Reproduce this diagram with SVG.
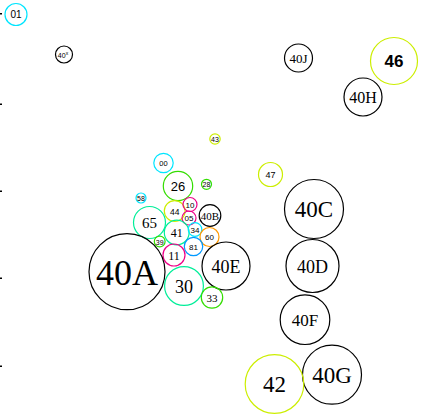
<svg xmlns="http://www.w3.org/2000/svg" width="422" height="416" viewBox="0 0 422 416">
<style>
circle{fill:none;stroke-width:1.2}
.k{stroke:#000}.c{stroke:#00e5ff}.t{stroke:#00ee99}.g{stroke:#33dd00}.y{stroke:#ccee00}.m{stroke:#ee0088}.o{stroke:#ff9900}.b{stroke:#0099ff}
text{text-anchor:middle;dominant-baseline:central;fill:#000}
.s{font-family:"Liberation Sans",Arial,sans-serif}
.r{font-family:"Liberation Serif","Times New Roman",serif}
</style>
<rect width="422" height="416" fill="#fff"/>
<g id="ticks" fill="#000">
<rect x="0" y="13" width="2" height="1.5"/>
<rect x="0" y="103.5" width="2" height="1.5"/>
<rect x="0" y="190.5" width="2" height="1.5"/>
<rect x="0" y="277.5" width="2" height="1.5"/>
<rect x="0" y="365.5" width="2" height="1.5"/>
</g>
<g id="connectors"></g>
<g id="n01"><circle class="c" cx="16" cy="14.5" r="11"/><text class="s" x="16" y="14.5" font-size="10">01</text></g>
<g id="n40x"><circle class="k" cx="64" cy="54.5" r="8.5"/><text class="s" x="63" y="55.5" font-size="7">40<tspan font-size="5" dy="-2.5">x</tspan></text></g>
<g id="n40J"><circle class="k" cx="298.5" cy="58" r="14"/><text class="r" x="298.5" y="58.5" font-size="13">40J</text></g>
<g id="n46"><circle class="y" cx="394" cy="61" r="23.5"/><text class="s" x="394" y="61.5" font-size="17" font-weight="bold">46</text></g>
<g id="n40H"><circle class="k" cx="363" cy="97" r="19"/><text class="r" x="363" y="97.5" font-size="16">40H</text></g>
<g id="n43"><circle class="y" cx="215" cy="139" r="5.2"/><text class="s" x="215" y="139.5" font-size="7">43</text></g>
<g id="n00"><circle class="c" cx="163.5" cy="163" r="9.7"/><text class="s" x="163.5" y="163.5" font-size="7.5">00</text></g>
<g id="n47"><circle class="y" cx="270.5" cy="174.5" r="12"/><text class="s" x="270.5" y="175" font-size="9">47</text></g>
<g id="n26"><circle class="g" cx="178" cy="186" r="14.7"/><text class="s" x="178" y="186.5" font-size="13">26</text></g>
<g id="n28"><circle class="g" cx="206.5" cy="184.3" r="5"/><text class="s" x="206.5" y="184.8" font-size="7">28</text></g>
<g id="n58"><circle class="c" cx="141" cy="198" r="5"/><text class="s" x="141" y="198.5" font-size="7">58</text></g>
<g id="n40C"><circle class="k" cx="314" cy="209" r="29.5"/><text class="r" x="314" y="209.5" font-size="23">40C</text></g>
<g id="n44"><circle class="y" cx="174.7" cy="211" r="10.4"/><text class="s" x="174.7" y="211.5" font-size="8.5">44</text></g>
<g id="n10"><circle class="m" cx="190" cy="204.5" r="7"/><text class="s" x="190" y="205" font-size="8">10</text></g>
<g id="n05"><circle class="m" cx="189" cy="218" r="7"/><text class="s" x="189" y="218.5" font-size="8">05</text></g>
<g id="n40B"><circle class="k" cx="210" cy="215.5" r="10.8"/><text class="r" x="210" y="216" font-size="11">40B</text></g>
<g id="n65"><circle class="t" cx="149.5" cy="222.5" r="16"/><text class="r" x="149.5" y="223" font-size="15">65</text></g>
<g id="n41"><circle class="t" cx="176.7" cy="232.5" r="12.4"/><text class="r" x="176.7" y="233" font-size="12">41</text></g>
<g id="n34"><circle class="c" cx="195" cy="229.5" r="6.8"/><text class="s" x="195" y="230" font-size="8">34</text></g>
<g id="n60"><circle class="o" cx="209.5" cy="237" r="9.5"/><text class="s" x="209.5" y="237.5" font-size="8">60</text></g>
<g id="n39"><circle class="g" cx="159.7" cy="241.5" r="5.4"/><text class="s" x="159.7" y="242" font-size="7">39</text></g>
<g id="n81"><circle class="b" cx="193.5" cy="246.5" r="9.2"/><text class="s" x="193.5" y="247" font-size="8">81</text></g>
<g id="n11"><circle class="m" cx="174" cy="255" r="11"/><text class="r" x="174" y="255.5" font-size="12">11</text></g>
<g id="n40D"><circle class="k" cx="312.5" cy="266" r="26.5"/><text class="r" x="312.5" y="266.5" font-size="18">40D</text></g>
<g id="n40E"><circle class="k" cx="226" cy="266" r="24"/><text class="r" x="226" y="266.5" font-size="18">40E</text></g>
<g id="n40A"><circle class="k" cx="127" cy="271.7" r="38"/><text class="r" x="127" y="272.5" font-size="36">40A</text></g>
<g id="n30"><circle class="t" cx="184" cy="286" r="19.4"/><text class="r" x="184" y="286.5" font-size="18">30</text></g>
<g id="n33"><circle class="g" cx="212" cy="297.5" r="10.7"/><text class="r" x="212" y="298" font-size="11">33</text></g>
<g id="n40F"><circle class="k" cx="305" cy="319.7" r="24.8"/><text class="r" x="305" y="320.2" font-size="17">40F</text></g>
<g id="n40G"><circle class="k" cx="332" cy="374.7" r="29.5"/><text class="r" x="332" y="375.2" font-size="23">40G</text></g>
<g id="n42"><circle class="y" cx="274.5" cy="384" r="29.3"/><text class="r" x="274.5" y="384.5" font-size="23">42</text></g>
</svg>
